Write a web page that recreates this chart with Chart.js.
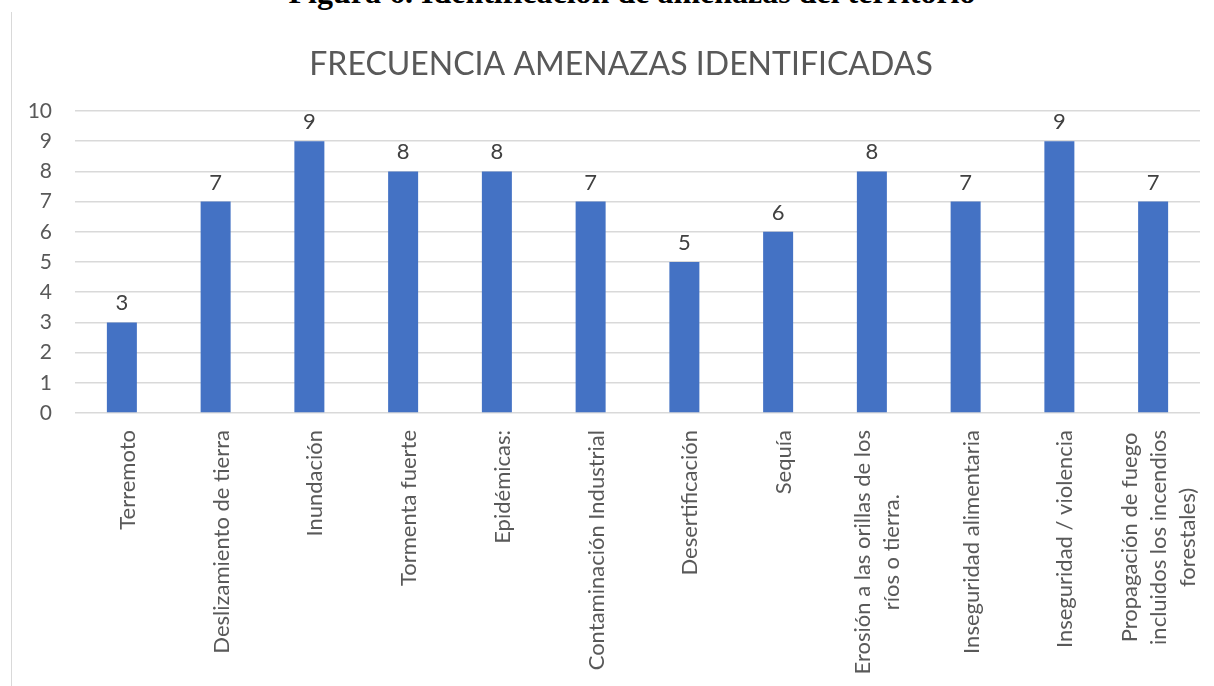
<!DOCTYPE html>
<html>
<head>
<meta charset="utf-8">
<script src="https://cdn.jsdelivr.net/npm/chart.js@4"></script>
<style>
  html, body { margin: 0; padding: 0; background: #fff; overflow: hidden; }
  #wrap { position: relative; width: 1214px; height: 686px; overflow: hidden; }
  #heading {
    position: absolute; left: 0; width: 1264px; top: -24px;
    text-align: center; font: bold 32px "Liberation Serif", serif;
    line-height: 32px; color: #000; white-space: nowrap;
  }
  #frame { position: absolute; left: 11px; top: 12px; width: 0; height: 674px; border-left: 1px solid #d9d9d9; }
  #box { position: absolute; left: 0; top: 0; width: 1214px; height: 686px; }
</style>
</head>
<body>
<div id="wrap">
  <div id="heading">Figura 6. Identificación de amenazas del territorio</div>
  <div id="frame"></div>
  <div id="box"><canvas id="chart"></canvas></div>
</div>
<script>
const title_text = 'FRECUENCIA AMENAZAS IDENTIFICADAS';

const categories = [
  ['Terremoto'],
  ['Deslizamiento de tierra'],
  ['Inundación'],
  ['Tormenta fuerte'],
  ['Epidémicas:'],
  ['Contaminación Industrial'],
  ['Desertificación'],
  ['Sequía'],
  ['Erosión a las orillas de los', 'ríos o tierra.'],
  ['Inseguridad alimentaria'],
  ['Inseguridad / violencia'],
  ['Propagación de fuego', 'incluidos los incendios', 'forestales)'],
];

const frecuencia = [3, 7, 9, 8, 8, 7, 5, 6, 8, 7, 9, 7];

const y_min = 0;
const y_max = 10;
const y_step = 1;

const text_color = '#595959';
const bar_color = '#4472C4';
const grid_color = '#d9d9d9';
const font_family = 'Lato, "Open Sans", sans-serif';

// chart title, centred on the chart frame rather than the canvas
const chart_title = {
  id: 'chart_title',
  afterDraw(chart) {
    const ctx = chart.ctx;
    ctx.save();
    ctx.font = `32px ${font_family}`;
    ctx.fillStyle = text_color;
    ctx.textAlign = 'center';
    ctx.textBaseline = 'middle';
    ctx.fillText(title_text, 621, 65);
    ctx.restore();
  }
};

// value labels above each bar
const bar_values = {
  id: 'bar_values',
  afterDatasetsDraw(chart) {
    const ctx = chart.ctx;
    const meta = chart.getDatasetMeta(0);
    ctx.save();
    ctx.font = `22px ${font_family}`;
    ctx.fillStyle = '#404040';
    ctx.textAlign = 'center';
    ctx.textBaseline = 'alphabetic';
    meta.data.forEach((bar, i) => {
      ctx.fillText(String(chart.data.datasets[0].data[i]), bar.x, bar.y - 12);
    });
    ctx.restore();
  }
};

// rotated category labels, lines centered on each other like Excel does
const x_labels = {
  id: 'x_labels',
  afterDraw(chart) {
    const ctx = chart.ctx;
    const x_scale = chart.scales.x;
    const line_h = 29;
    ctx.save();
    ctx.font = `22px ${font_family}`;
    ctx.fillStyle = text_color;
    ctx.textAlign = 'center';
    ctx.textBaseline = 'alphabetic';
    chart.data.labels.forEach((lines, i) => {
      const x = x_scale.getPixelForTick(i);
      const longest = Math.max(...lines.map(l => ctx.measureText(l).width));
      const cy = chart.chartArea.bottom + 17 + longest / 2;
      lines.forEach((line, j) => {
        const bx = x + 13 + (j - (lines.length - 1) / 2) * line_h;
        ctx.save();
        ctx.translate(bx, cy);
        ctx.rotate(-Math.PI / 2);
        ctx.fillText(line, 0, 0);
        ctx.restore();
      });
    });
    ctx.restore();
  }
};

const ctx = document.getElementById('chart').getContext('2d');
const chart = new Chart(ctx, {
  type: 'bar',
  data: {
    labels: categories,
    datasets: [{
      label: 'Frecuencia',
      data: frecuencia,
      backgroundColor: bar_color,
      borderWidth: 0,
      barPercentage: 0.32,
      categoryPercentage: 1,
    }]
  },
  options: {
    responsive: true,
    maintainAspectRatio: false,
    animation: false,
    layout: { padding: { top: 111, right: 14, bottom: 265, left: 0 } },
    plugins: {
      legend: { display: false },
      tooltip: { enabled: false },
      title: { display: false },
    },
    scales: {
      x: {
        grid: { display: false },
        border: { display: false },
        ticks: { display: false },
      },
      y: {
        min: y_min,
        max: y_max,
        afterFit: (scale) => { scale.width = 75; },
        grid: { color: grid_color, lineWidth: 1.5, drawTicks: false },
        border: { display: false },
        ticks: {
          stepSize: y_step,
          padding: 23,
          color: text_color,
          font: { family: font_family, size: 21 },
        },
      },
    },
  },
  plugins: [chart_title, bar_values, x_labels],
});
</script>
</body>
</html>
